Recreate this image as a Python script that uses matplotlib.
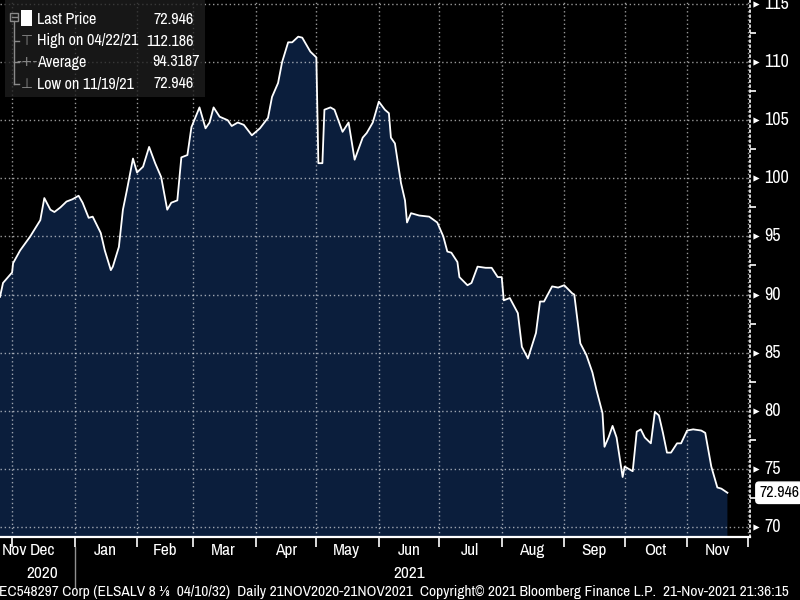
import matplotlib
matplotlib.use("Agg")
import matplotlib.pyplot as plt
import matplotlib.dates as mdates
import numpy as np
import datetime as dt
from matplotlib import font_manager as fm
from matplotlib.patches import Rectangle
from matplotlib.ticker import MultipleLocator, FixedLocator, FixedFormatter, NullFormatter
from matplotlib.transforms import blended_transform_factory
from matplotlib.lines import Line2D

# ---------------- data ----------------
base_date = dt.datetime(2020, 11, 25)
day_offsets = [0, 1.5, 6, 6.5, 10, 15, 20, 22, 25, 27, 30, 33, 36, 39, 41, 44, 46, 50, 52, 55,
               56, 59, 61, 63, 66, 68, 71, 74, 77, 80, 83, 85, 88, 90, 93, 95, 99, 102, 104, 106,
               109, 113, 115, 118, 121, 125, 129, 133, 135, 138, 140, 143, 145, 148, 150, 154, 157, 158, 160, 161,
               164, 166, 170, 173, 176, 180, 182, 185, 188, 191, 193, 194, 196, 199, 201, 202, 204, 208, 213, 217,
               220, 222, 224, 227, 228, 232, 234, 237, 241, 244, 247, 249, 250, 253, 257, 259, 262, 266, 268, 270,
               274, 277, 280, 284, 285, 288, 291, 294, 296, 299, 300, 302, 304, 306, 309, 310, 313, 314, 316, 318,
               320, 323, 325, 327, 329, 331, 333, 336, 338, 341, 344, 348, 350, 353, 356, 358, 361]
prices = [89.8, 91.0, 91.9, 92.7, 93.8, 95.0, 96.4, 98.3, 97.3, 97.1, 97.5, 98.0, 98.2, 98.5, 97.9, 96.6, 96.7, 95.3, 93.8, 92.1,
          92.4, 94.1, 97.3, 99.0, 101.7, 100.5, 101.0, 102.7, 101.3, 100.1, 97.3, 97.9, 98.1, 101.8, 102.0, 104.4, 106.1, 104.3, 104.8, 106.1,
          105.3, 105.0, 104.5, 104.8, 104.6, 103.7, 104.3, 105.2, 107.0, 108.2, 110.0, 111.7, 111.7, 112.186, 112.1, 110.9, 110.4, 101.3, 101.3, 105.9,
          106.1, 105.9, 104.0, 104.8, 101.6, 103.5, 103.9, 104.8, 106.6, 105.9, 105.6, 103.5, 103.0, 99.6, 98.1, 96.2, 97.0, 96.8, 96.7, 96.2,
          95.0, 93.7, 93.6, 92.8, 91.5, 90.8, 91.0, 92.4, 92.3, 92.3, 91.5, 91.5, 89.5, 89.7, 88.4, 85.5, 84.5, 86.7, 89.4, 89.4,
          90.7, 90.6, 90.8, 90.1, 90.0, 85.8, 84.8, 83.3, 81.8, 79.8, 76.9, 77.7, 78.7, 77.7, 74.3, 75.2, 74.9, 74.8, 78.2, 78.4,
          77.7, 77.2, 79.9, 79.6, 78.1, 76.4, 76.4, 77.2, 77.2, 78.3, 78.4, 78.3, 78.1, 75.2, 73.4, 73.3, 72.946]

month_labels = ['Nov', 'Dec', 'Jan', 'Feb', 'Mar', 'Apr', 'May', 'Jun', 'Jul', 'Aug', 'Sep', 'Oct', 'Nov']
month_label_dates = ['2020-12-02', '2020-12-16', '2021-01-16', '2021-02-15', '2021-03-16', '2021-04-16',
                     '2021-05-16', '2021-06-16', '2021-07-16', '2021-08-16', '2021-09-16', '2021-10-16', '2021-11-16']
year_labels = ['2020', '2021']
year_label_dates = ['2020-12-16', '2021-06-16']
y_ticks = [70, 75, 80, 85, 90, 95, 100, 105, 110, 115]

legend_names = ['Last Price', 'High on 04/22/21', 'Average', 'Low on 11/19/21']
legend_values = ['72.946', '112.186', '94.3187', '72.946']
last_price = 72.946

footer = ("EC548297 Corp (ELSALV 8 \u215b  04/10/32)  Daily 21NOV2020-21NOV2021  "
          "Copyright\u00a9 2021 Bloomberg Finance L.P.  21-Nov-2021 21:36:15")

# ---------------- fonts: prefer a narrow face if one is installed ----------------
narrow_path = None
cands = []
for f in fm.fontManager.ttflist:
    nm = f.name.lower()
    if f.style != 'normal' or f.weight not in ('normal', 'regular', 400):
        continue
    if 'narrow' in nm:
        cands.append((0, f.fname))
    elif 'condensed' in nm or f.stretch in ('condensed', 'semi-condensed'):
        cands.append((1, f.fname))
if cands:
    narrow_path = sorted(cands)[0][1]


def FP(size):
    if narrow_path:
        return fm.FontProperties(fname=narrow_path, size=size)
    return fm.FontProperties(family=['Liberation Sans', 'DejaVu Sans'], size=size * 0.85)


# ---------------- figure ----------------
NAVY = '#0b1e3c'
W, H = 800, 600
fig = plt.figure(figsize=(8, 6), dpi=100, facecolor='black')
ax = fig.add_axes([0, 63 / H, 750 / W, 537 / H])
ax.set_facecolor('black')

x0 = mdates.date2num(base_date)
xs = x0 + np.array(day_offsets)
ax.fill_between(xs, prices, 0, color=NAVY, lw=0, zorder=1)
ax.plot(xs, prices, color='white', lw=1.3, zorder=3)

ax.set_xlim(x0, x0 + 750 / 2.015)
ax.set_ylim(69.14, 115.34)

# grid
ax.set_axisbelow(False)
ax.xaxis.set_major_locator(mdates.MonthLocator())
ax.xaxis.set_major_formatter(NullFormatter())
ax.set_yticks(y_ticks)
ax.grid(True, which='major', color='white', alpha=0.6, ls=(0, (1, 2)), lw=1)

# x labels
lab_x = [mdates.date2num(dt.datetime.strptime(d, '%Y-%m-%d')) for d in month_label_dates]
ax.xaxis.set_minor_locator(FixedLocator(lab_x))
ax.xaxis.set_minor_formatter(FixedFormatter(month_labels))
ax.tick_params(axis='x', which='major', length=7, width=1.2, color='white', direction='out')
ax.tick_params(axis='x', which='minor', length=0, labelcolor='white', pad=4)
for lab in ax.xaxis.get_minorticklabels():
    lab.set_fontproperties(FP(12.5))

# y axis right
ax.yaxis.tick_right()
ax.yaxis.set_minor_locator(MultipleLocator(2.5))
ax.tick_params(axis='y', which='major', length=0, labelcolor='white', pad=10)
ax.tick_params(axis='y', which='minor', length=4, width=1.2, color='white', direction='out')
for lab in ax.get_yticklabels():
    lab.set_fontproperties(FP(13))
    lab.set_verticalalignment('center')
btr = blended_transform_factory(ax.transAxes, ax.transData)
ax.scatter([1 + 6 / 750] * len(y_ticks), y_ticks, transform=btr, marker='>', s=20,
           c='white', clip_on=False, zorder=6, linewidths=0)

for s in ['top', 'left']:
    ax.spines[s].set_visible(False)
ax.spines['bottom'].set_color('white')
ax.spines['bottom'].set_linewidth(1.6)
ax.spines['right'].set_color('white')
ax.spines['right'].set_linestyle((0, (1, 2)))
ax.spines['right'].set_linewidth(1.2)

# year labels and separator
bx = blended_transform_factory(ax.transData, ax.transAxes)
for lab, d in zip(year_labels, year_label_dates):
    ax.text(mdates.date2num(dt.datetime.strptime(d, '%Y-%m-%d')), -37 / 537, lab, transform=bx,
            color='white', fontproperties=FP(12.5), ha='center', va='center')
jan1 = mdates.date2num(dt.datetime(2021, 1, 1))
ax.add_line(Line2D([jan1, jan1], [-10 / 537, -50 / 537], transform=bx, color='#909090',
                   lw=1, clip_on=False))

# last price tag
ax.text(1 + 9 / 750, last_price, f"{last_price:.3f}", transform=btr, color='black',
        fontproperties=FP(11.5), ha='left', va='center', zorder=7,
        bbox=dict(boxstyle='round,pad=0.2,rounding_size=0.2', fc='white', ec='white'))

# footer
fig.text(-1 / W, 1 - 592 / H, footer, color='white', fontproperties=FP(11.1),
         ha='left', va='center')

# legend box
def fx(px):
    return px / W


def fy(py):
    return 1 - py / H


fig.add_artist(Rectangle((fx(5), fy(97)), 200 / W, 97 / H, transform=fig.transFigure,
                         fc='#1e1e1e', ec='none', alpha=0.78, zorder=5))
fig.add_artist(Rectangle((fx(21), fy(26)), 11 / W, 16 / H, transform=fig.transFigure,
                         fc='white', ec='none', zorder=6))
gray = '#8a8a8a'
fig.add_artist(Rectangle((fx(10), fy(21)), 8 / W, 8 / H, transform=fig.transFigure,
                         fc='none', ec=gray, lw=1, zorder=6))
fig.add_artist(Line2D([fx(11.5), fx(16.5)], [fy(17), fy(17)], transform=fig.transFigure, color=gray, lw=1, zorder=6))
fig.add_artist(Line2D([fx(14), fx(14)], [fy(21), fy(84)], transform=fig.transFigure, color=gray, lw=1, zorder=6))
row_y = [19, 41, 62, 84]
for ry in row_y[1:]:
    fig.add_artist(Line2D([fx(14), fx(19)], [fy(ry), fy(ry)], transform=fig.transFigure, color=gray, lw=1, zorder=6))
icons = ['', '\u22a4', '-+-', '\u22a5']
for ic, ry in zip(icons, row_y):
    if ic:
        fig.text(fx(27), fy(ry), ic, color=gray, fontsize=10, ha='center', va='center', zorder=7,
                 family='DejaVu Sans')
value_right = [194, 194, 200, 194]
for name, val, ry, vr in zip(legend_names, legend_values, row_y, value_right):
    fig.text(fx(37), fy(ry), name, color='white', fontproperties=FP(11.6), ha='left',
             va='center', zorder=7)
    fig.text(fx(vr), fy(ry), val, color='white', fontproperties=FP(11.6), ha='right',
             va='center', zorder=7)

fig.savefig('out.png', dpi=100, facecolor='black')
